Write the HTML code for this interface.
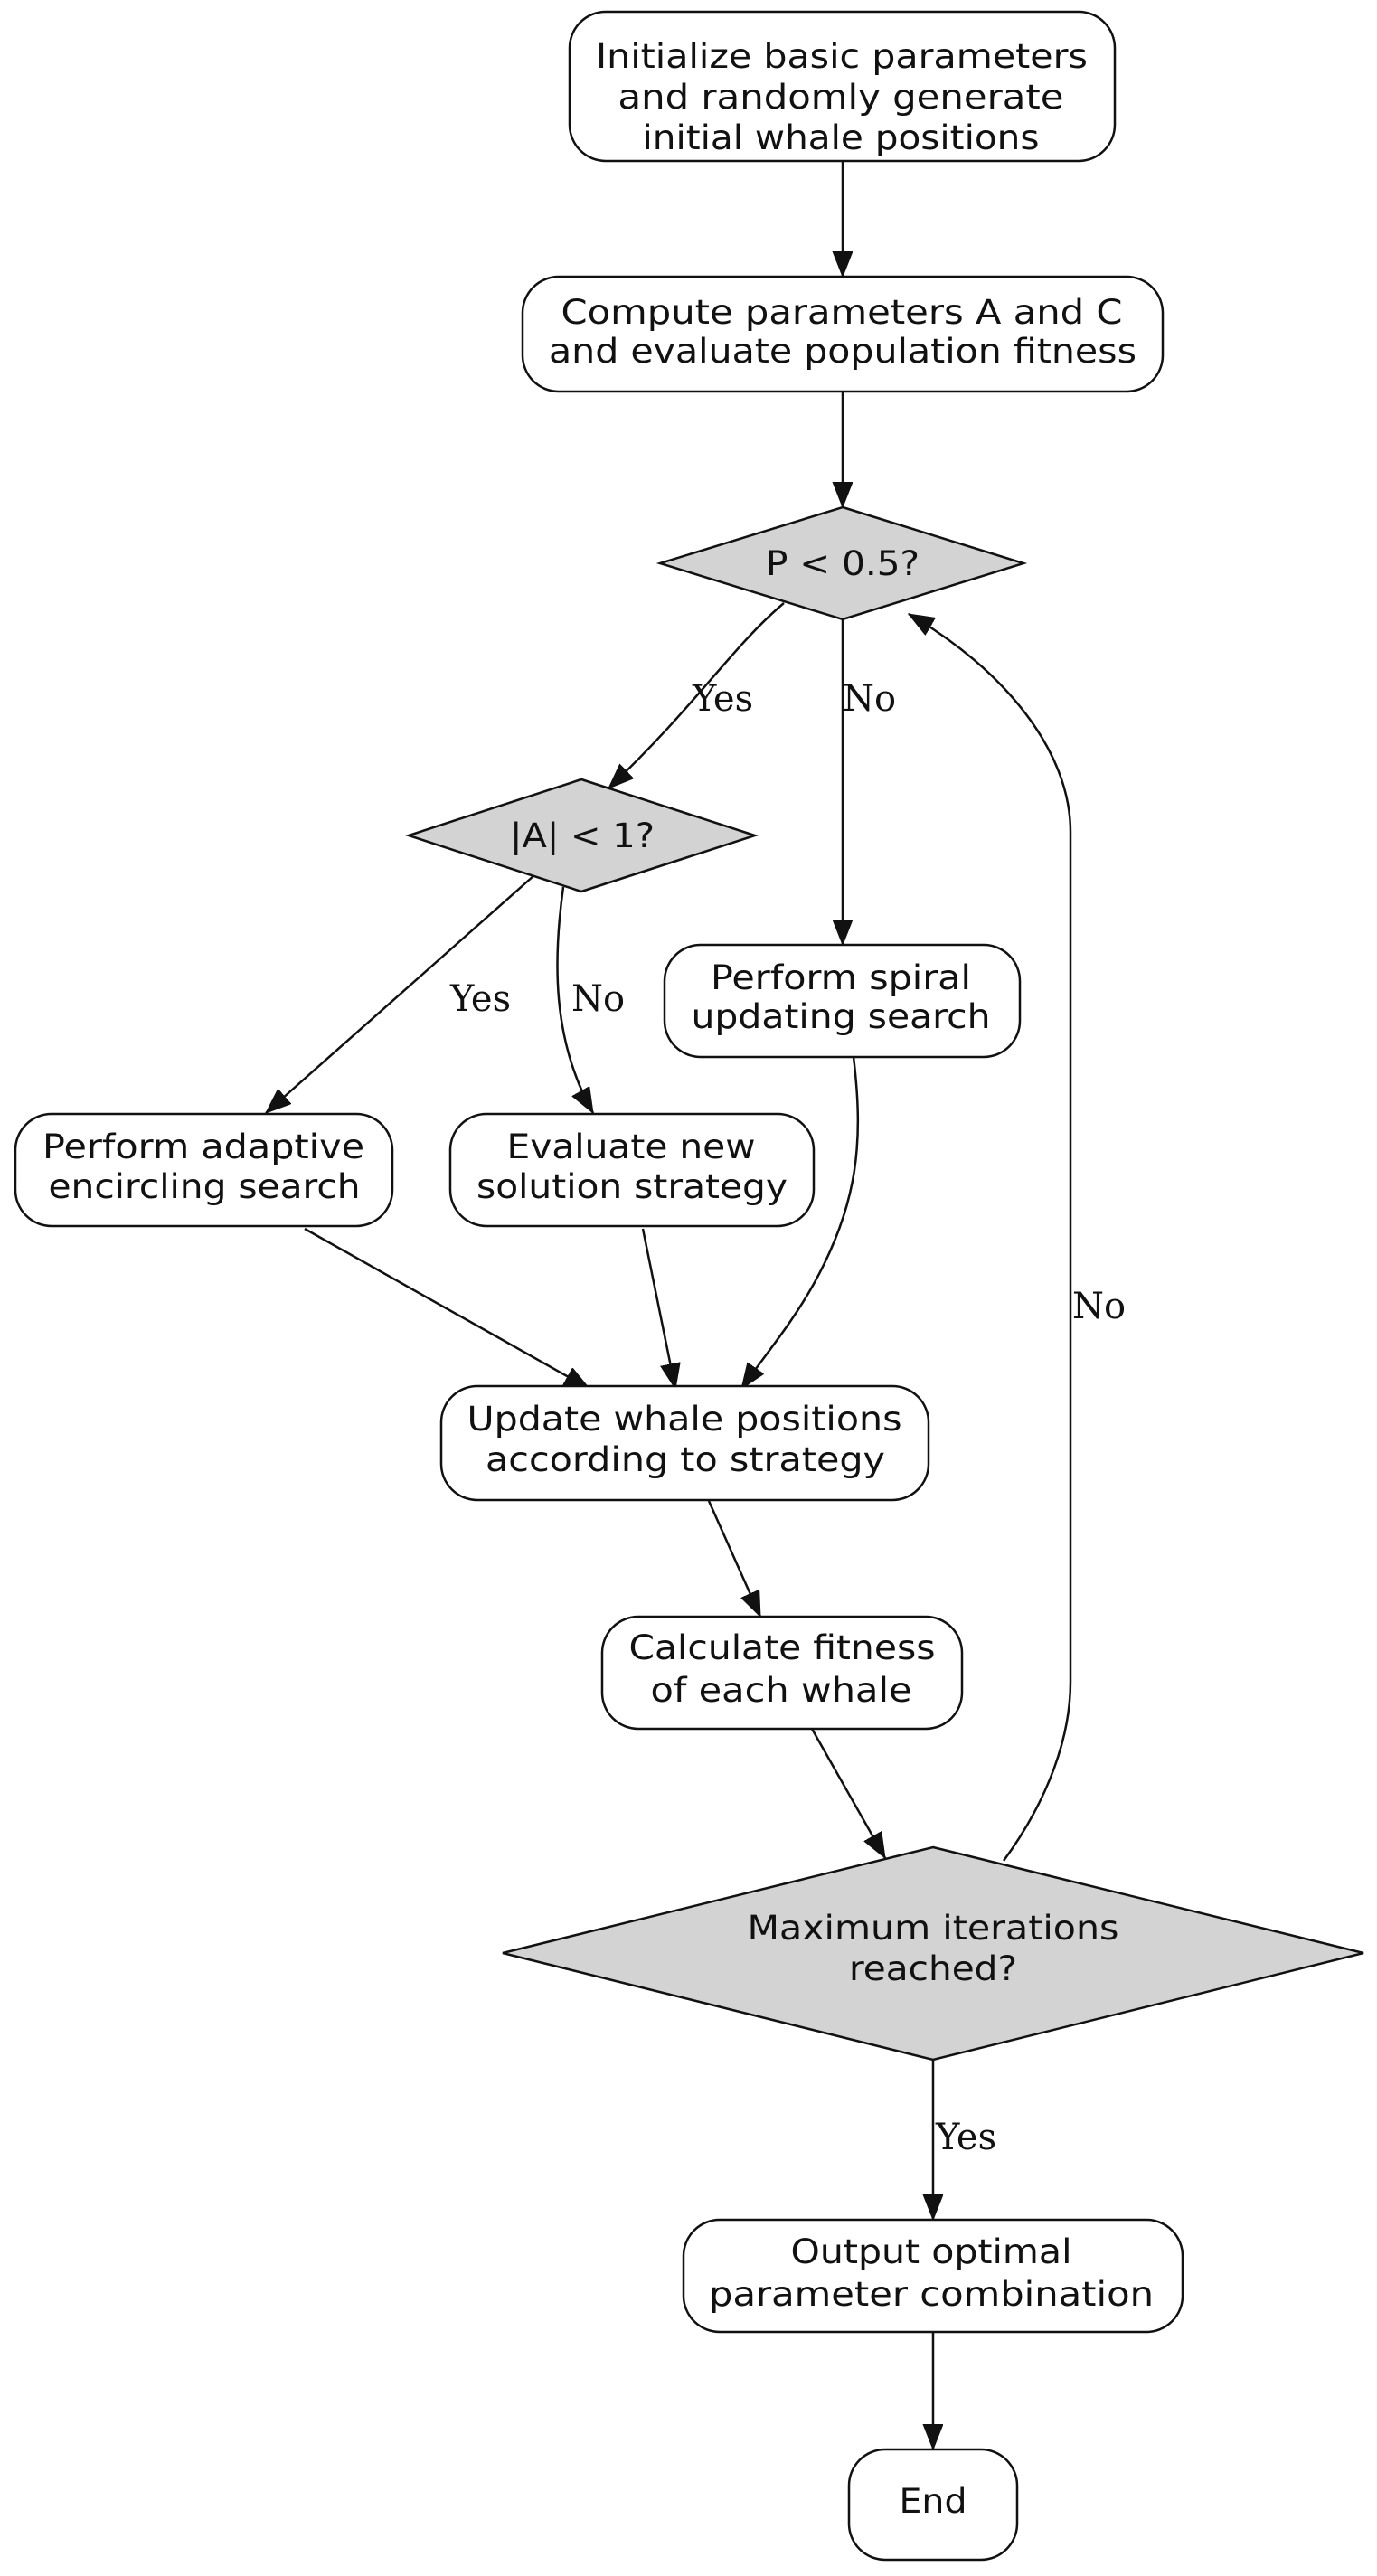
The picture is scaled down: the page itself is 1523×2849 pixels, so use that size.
<!DOCTYPE html>
<html><head><meta charset="utf-8"><style>
html,body{margin:0;padding:0;background:#fff;}
svg{display:block;}
text{font-family:"DejaVu Sans","Liberation Sans",sans-serif;font-size:37px;fill:#111;}
.l{font-family:"DejaVu Serif","Liberation Serif",serif;font-size:40px;}
.b{fill:#fff;stroke:#111;stroke-width:2.5;}
.d{fill:#d3d3d3;stroke:#111;stroke-width:2.5;}
.e{fill:none;stroke:#111;stroke-width:2.5;}
</style></head><body>
<svg width="1523" height="2849" viewBox="0 0 1523 2849" xmlns="http://www.w3.org/2000/svg">
<defs>
<marker id="a" markerUnits="userSpaceOnUse" markerWidth="30" markerHeight="24" refX="28" refY="11" orient="auto">
<path d="M0,0 L28,11 L0,22 Z" fill="#111" stroke="#111" stroke-width="1"/>
</marker>
</defs>

<!-- edges -->
<path class="e" d="M932,178 L932,306" marker-end="url(#a)"/>
<path class="e" d="M932,433 L932,561" marker-end="url(#a)"/>
<path class="e" d="M867,667 C810,715 770,780 673,872" marker-end="url(#a)"/>
<path class="e" d="M932,685 L932,1045" marker-end="url(#a)"/>
<path class="e" d="M591,968 L294,1231" marker-end="url(#a)"/>
<path class="e" d="M623,981 C612,1060 610,1150 656,1231" marker-end="url(#a)"/>
<path class="e" d="M337,1359 L652,1536" marker-end="url(#a)"/>
<path class="e" d="M711,1359 L747,1536" marker-end="url(#a)"/>
<path class="e" d="M944,1169 C955,1260 950,1330 900,1420 C875,1465 845,1500 820,1536" marker-end="url(#a)"/>
<path class="e" d="M784,1660 L841,1788" marker-end="url(#a)"/>
<path class="e" d="M898,1912 L979,2055" marker-end="url(#a)"/>
<path class="e" d="M1110,2058 C1160,1990 1184,1920 1184,1860 L1184,920 C1184,830 1110,740 1005,679" marker-end="url(#a)"/>
<path class="e" d="M1032,2278 L1032,2455" marker-end="url(#a)"/>
<path class="e" d="M1032,2579 L1032,2709" marker-end="url(#a)"/>

<!-- nodes -->
<rect class="b" x="630" y="13" width="603" height="165" rx="40"/>
<text x="931" y="75" text-anchor="middle" textLength="544" lengthAdjust="spacingAndGlyphs">Initialize basic parameters</text>
<text x="930" y="120" text-anchor="middle" textLength="493" lengthAdjust="spacingAndGlyphs">and randomly generate</text>
<text x="930" y="165" text-anchor="middle" textLength="439" lengthAdjust="spacingAndGlyphs">initial whale positions</text>

<rect class="b" x="578" y="306" width="708" height="127" rx="40"/>
<text x="931" y="358" text-anchor="middle" textLength="621" lengthAdjust="spacingAndGlyphs">Compute parameters A and C</text>
<text x="932" y="401" text-anchor="middle" textLength="650" lengthAdjust="spacingAndGlyphs">and evaluate population fitness</text>

<polygon class="d" points="932,561 1132,623 932,685 730,623"/>
<text x="932" y="636" text-anchor="middle" textLength="170" lengthAdjust="spacingAndGlyphs">P &lt; 0.5?</text>

<polygon class="d" points="643,862 835,924 643,986 452,924"/>
<text x="644" y="937" text-anchor="middle" textLength="160" lengthAdjust="spacingAndGlyphs">|A| &lt; 1?</text>

<rect class="b" x="735" y="1045" width="393" height="124" rx="40"/>
<text x="930" y="1094" text-anchor="middle" textLength="288" lengthAdjust="spacingAndGlyphs">Perform spiral</text>
<text x="930" y="1137" text-anchor="middle" textLength="331" lengthAdjust="spacingAndGlyphs">updating search</text>

<rect class="b" x="17" y="1232" width="417" height="124" rx="40"/>
<text x="225" y="1281" text-anchor="middle" textLength="356" lengthAdjust="spacingAndGlyphs">Perform adaptive</text>
<text x="226" y="1325" text-anchor="middle" textLength="345" lengthAdjust="spacingAndGlyphs">encircling search</text>

<rect class="b" x="498" y="1232" width="402" height="124" rx="40"/>
<text x="698" y="1281" text-anchor="middle" textLength="275" lengthAdjust="spacingAndGlyphs">Evaluate new</text>
<text x="699" y="1325" text-anchor="middle" textLength="344" lengthAdjust="spacingAndGlyphs">solution strategy</text>

<rect class="b" x="488" y="1533" width="539" height="126" rx="40"/>
<text x="757" y="1582" text-anchor="middle" textLength="481" lengthAdjust="spacingAndGlyphs">Update whale positions</text>
<text x="758" y="1627" text-anchor="middle" textLength="442" lengthAdjust="spacingAndGlyphs">according to strategy</text>

<rect class="b" x="666" y="1788" width="398" height="124" rx="40"/>
<text x="865" y="1835" text-anchor="middle" textLength="339" lengthAdjust="spacingAndGlyphs">Calculate fitness</text>
<text x="864" y="1882" text-anchor="middle" textLength="289" lengthAdjust="spacingAndGlyphs">of each whale</text>

<polygon class="d" points="1032,2043 1508,2160 1032,2278 556,2160"/>
<text x="1032" y="2145" text-anchor="middle" textLength="411" lengthAdjust="spacingAndGlyphs">Maximum iterations</text>
<text x="1032" y="2190" text-anchor="middle" textLength="186" lengthAdjust="spacingAndGlyphs">reached?</text>

<rect class="b" x="756" y="2455" width="552" height="124" rx="40"/>
<text x="1030" y="2503" text-anchor="middle" textLength="311" lengthAdjust="spacingAndGlyphs">Output optimal</text>
<text x="1030" y="2550" text-anchor="middle" textLength="492" lengthAdjust="spacingAndGlyphs">parameter combination</text>

<rect class="b" x="939" y="2709" width="186" height="122" rx="40"/>
<text x="1032" y="2779" text-anchor="middle" textLength="75" lengthAdjust="spacingAndGlyphs">End</text>

<!-- edge labels -->
<text class="l" x="766" y="786">Yes</text>
<text class="l" x="932" y="786">No</text>
<text class="l" x="498" y="1118">Yes</text>
<text class="l" x="632" y="1118">No</text>
<text class="l" x="1186" y="1458">No</text>
<text class="l" x="1035" y="2377">Yes</text>
</svg>
</body></html>
